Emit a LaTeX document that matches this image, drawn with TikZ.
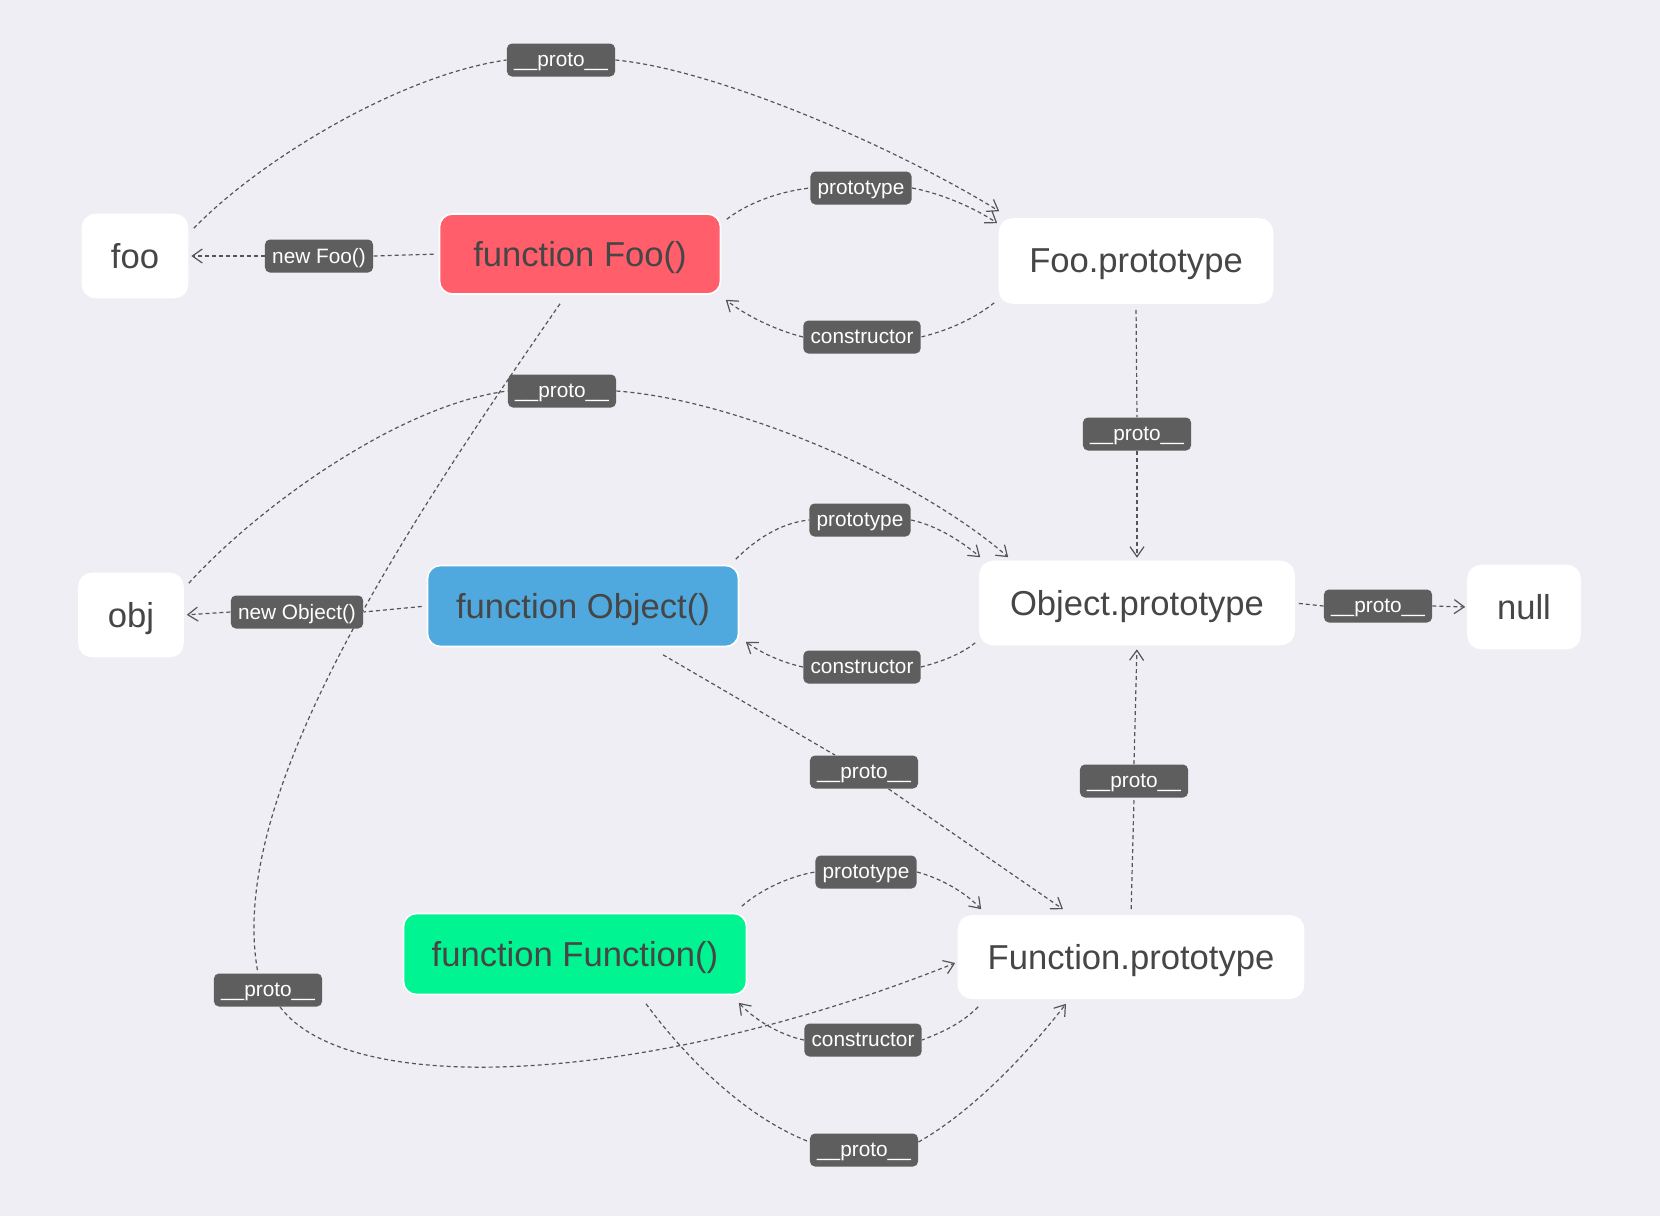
\documentclass[tikz,border=0pt]{standalone}
\usepackage{fontspec}
\setmainfont{Liberation Sans}
\usetikzlibrary{arrows.meta,calc}
\definecolor{bgc}{RGB}{239,238,244}
\definecolor{txt}{RGB}{70,70,70}
\definecolor{lblc}{RGB}{94,94,94}
\definecolor{linec}{RGB}{85,85,85}
\definecolor{fooc}{RGB}{255,94,106}
\definecolor{objc}{RGB}{79,168,222}
\definecolor{fnc}{RGB}{0,245,146}
\pgfdeclarelayer{back}
\pgfdeclarelayer{edges}
\pgfsetlayers{back,edges,main}
\tikzset{
  box/.style={rounded corners=6.5pt, fill=white, draw=white, line width=0.8pt, text=txt,
    font=\fontsize{17.3}{20}\selectfont, inner sep=0pt, text depth=0pt, align=center},
  lbl/.style={rounded corners=2.5pt, fill=lblc, text=white,
    font=\fontsize{10.4}{12}\selectfont, minimum height=16.5pt, inner xsep=3.6pt, inner ysep=0pt, text depth=0pt},
  edge/.style={draw=linec, line width=0.6pt, dash pattern=on 2pt off 1.5pt},
  arr/.style={edge, -{Straight Barb[length=5pt,width=7pt]}}
}
\begin{document}
\begin{tikzpicture}[x=0.5pt,y=-0.5pt]
\begin{pgfonlayer}{back}
\fill[bgc] (0,0) rectangle (1660,1216);
\end{pgfonlayer}
\path[use as bounding box] (0,0) rectangle (1660,1216);

% main nodes
\node[box, minimum width=52.5pt, minimum height=41.5pt] (foo) at (135,256) {foo};
\node[box, fill=fooc, minimum width=140.5pt, minimum height=40pt] (Foo) at (580,254) {function Foo()};
\node[box, minimum width=136.5pt, minimum height=42pt] (fooP) at (1136,261) {Foo.prototype};
\node[box, minimum width=52pt, minimum height=41.5pt] (obj) at (131,615) {obj};
\node[box, fill=objc, minimum width=155.5pt, minimum height=40.5pt] (Obj) at (583,606) {function Object()};
\node[box, minimum width=157pt, minimum height=41.5pt] (ObjP) at (1137,603) {Object.prototype};
\node[box, minimum width=56pt, minimum height=41.5pt] (null) at (1524,607) {null};
\node[box, fill=fnc, minimum width=171.5pt, minimum height=40.5pt] (Fn) at (575,954) {function Function()};
\node[box, minimum width=172.5pt, minimum height=41pt] (FnP) at (1131,957) {Function.prototype};

% labels
\node[lbl] (lp1) at (561,60) {\_\_proto\_\_};
\node[lbl] (lnf) at (319,256) {new Foo()};
\node[lbl] (lpf) at (861,188) {prototype};
\node[lbl] (lcf) at (862,337) {constructor};
\node[lbl] (lp2) at (562,391) {\_\_proto\_\_};
\node[lbl] (lp3) at (1137,434) {\_\_proto\_\_};
\node[lbl] (lpo) at (860,520) {prototype};
\node[lbl] (lno) at (297,612) {new Object()};
\node[lbl] (lp4) at (1378,606) {\_\_proto\_\_};
\node[lbl] (lco) at (862,667) {constructor};
\node[lbl] (lp5) at (864,772) {\_\_proto\_\_};
\node[lbl] (lp6) at (1134,781) {\_\_proto\_\_};
\node[lbl] (lpn) at (866,872) {prototype};
\node[lbl] (lp7) at (268,990) {\_\_proto\_\_};
\node[lbl] (lcn) at (863,1040) {constructor};
\node[lbl] (lp8) at (864,1150) {\_\_proto\_\_};

\begin{pgfonlayer}{edges}
% foo -> Foo.prototype
\draw[edge] ([shift={(5.5,14.5)}]foo.north east) .. controls (260,160) and (400,75) .. (lp1.west);
\draw[arr] (lp1.east) .. controls (720,70) and (900,150) .. ([shift={(0.5,-7)}]fooP.north west);
% Foo -> foo
\draw[edge, shorten <=2.5pt] (Foo.west) -- (lnf.east);
\draw[arr, shorten >=1.5pt] (lnf.west) -- (foo.east);
% Foo prototype
\draw[edge] ([shift={(5.5,6)}]Foo.north east) .. controls (745,205) and (775,192) .. (lpf.west);
\draw[arr] (lpf.east) .. controls (940,193) and (975,208) .. ([shift={(-1.5,5)}]fooP.north west);
% Foo constructor
\draw[edge] ([shift={(-4.5,-1)}]fooP.south west) .. controls (975,318) and (950,330) .. (lcf.east);
\draw[arr] (lcf.west) .. controls (775,330) and (745,315) .. ([shift={(4.5,5)}]Foo.south east);
% obj -> Object.prototype
\draw[edge] ([shift={(5,10.5)}]obj.north east) .. controls (260,505) and (400,405) .. (lp2.west);
\draw[arr] (lp2.east) .. controls (740,400) and (920,480) .. ([shift={(29,-3.5)}]ObjP.north west);
% Foo -> Function.prototype
\draw[edge] ([shift={(-20,9)}]Foo.south) .. controls (400,535) and (225,800) .. ([shift={(-10,0)}]lp7.north);
\draw[arr] ([shift={(12,0)}]lp7.south) .. controls (350,1100) and (650,1085) .. ([shift={(-2.5,6)}]FnP.west);
% Object -> obj
\draw[edge, shorten <=2.5pt] (Obj.west) -- (lno.east);
\draw[arr, shorten >=1.5pt] (lno.west) -- (obj.east);
% Object prototype
\draw[edge] ([shift={(-3.5,-5.5)}]Obj.north east) .. controls (755,540) and (780,523) .. (lpo.west);
\draw[arr] (lpo.east) .. controls (935,525) and (960,540) .. ([shift={(1,-3.5)}]ObjP.north west);
% Foo.prototype -> Object.prototype
\draw[edge, shorten <=3pt] (fooP.south) -- (lp3.north);
\draw[arr, shorten >=1.5pt] (lp3.south) -- (ObjP.north);
% Object.prototype -> null
\draw[edge, shorten <=2pt] (ObjP.east) -- (lp4.west);
\draw[arr, shorten >=1pt] (lp4.east) -- (null.west);
% Object constructor
\draw[edge] ([shift={(-4,-2.5)}]ObjP.south west) .. controls (960,655) and (940,662) .. (lco.east);
\draw[arr] (lco.west) .. controls (780,662) and (760,652) .. ([shift={(6.5,-5.5)}]Obj.south east);
% Object -> Function.prototype
\draw[edge] ([shift={(80,7.5)}]Obj.south) -- (lp5);
\draw[arr] (lp5) -- ([shift={(-68,-6)}]FnP.north);
% Function.prototype -> Object.prototype
\draw[edge, shorten <=3pt] (FnP.north) -- (lp6.south);
\draw[arr, shorten >=2pt] (lp6.north) -- (ObjP.south);
% Function prototype
\draw[edge] ([shift={(-5.5,-6.5)}]Fn.north east) .. controls (760,890) and (790,876) .. (lpn.west);
\draw[arr] (lpn.east) .. controls (940,878) and (965,892) .. ([shift={(23.5,-6)}]FnP.north west);
% Function constructor
\draw[edge] ([shift={(20.5,8)}]FnP.south west) .. controls (960,1025) and (940,1033) .. (lcn.east);
\draw[arr] (lcn.west) .. controls (780,1035) and (755,1020) .. ([shift={(-8.5,7.5)}]Fn.south east);
% Function -> Function.prototype
\draw[edge] ([shift={(71,8.5)}]Fn.south) .. controls (680,1050) and (740,1115) .. ([shift={(0,-8)}]lp8.west);
\draw[arr] ([shift={(0,-8)}]lp8.east) .. controls (975,1110) and (1030,1050) .. ([shift={(-65,5)}]FnP.south);
\end{pgfonlayer}
\end{tikzpicture}
\end{document}
